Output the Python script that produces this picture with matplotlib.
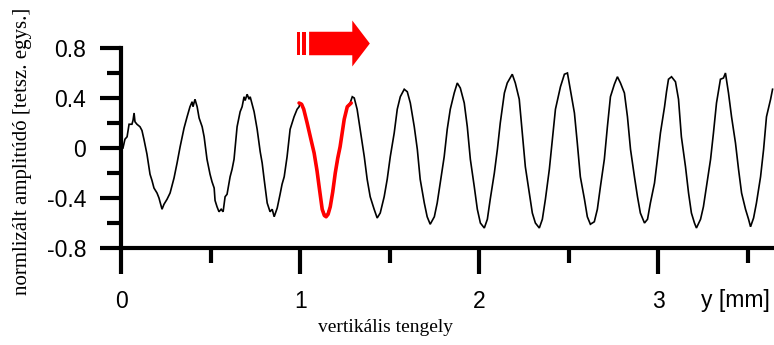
import matplotlib
matplotlib.use("Agg")
import matplotlib.pyplot as plt
from matplotlib.patches import Polygon
from matplotlib.ticker import MultipleLocator

# measured trace: position along the vertical axis [mm] and normalised amplitude
pos_mm = [0.011, 0.022, 0.034, 0.045, 0.061, 0.067, 0.073, 0.078, 0.089, 0.106,
          0.117, 0.128, 0.145, 0.162, 0.173, 0.184, 0.201, 0.212, 0.223, 0.229,
          0.240, 0.257, 0.274, 0.285, 0.296, 0.313, 0.330, 0.352, 0.369, 0.385,
          0.397, 0.402, 0.413, 0.425, 0.436, 0.453, 0.464, 0.480, 0.497, 0.508,
          0.520, 0.525, 0.536, 0.547, 0.559, 0.570, 0.581, 0.592, 0.609, 0.620,
          0.631, 0.648, 0.665, 0.676, 0.687, 0.693, 0.704, 0.715, 0.721, 0.732,
          0.743, 0.760, 0.777, 0.788, 0.799, 0.816, 0.832, 0.844, 0.855, 0.872,
          0.888, 0.899, 0.911, 0.927, 0.944, 0.955, 0.966, 0.983, 0.994, 1.000,
          1.011, 1.039, 1.078, 1.106, 1.123, 1.145, 1.168, 1.196, 1.207, 1.223,
          1.246, 1.263, 1.279, 1.291, 1.302, 1.318, 1.335, 1.358, 1.374, 1.391,
          1.413, 1.430, 1.447, 1.469, 1.486, 1.503, 1.525, 1.542, 1.559, 1.581,
          1.598, 1.615, 1.637, 1.654, 1.670, 1.693, 1.709, 1.726, 1.749, 1.765,
          1.782, 1.804, 1.821, 1.838, 1.860, 1.877, 1.894, 1.916, 1.933, 1.950,
          1.972, 1.989, 2.006, 2.028, 2.045, 2.061, 2.084, 2.101, 2.117, 2.140,
          2.156, 2.184, 2.201, 2.223, 2.240, 2.257, 2.279, 2.296, 2.313, 2.335,
          2.352, 2.369, 2.391, 2.408, 2.425, 2.436, 2.453, 2.475, 2.492, 2.508,
          2.531, 2.547, 2.564, 2.587, 2.603, 2.620, 2.642, 2.659, 2.676, 2.698,
          2.715, 2.732, 2.754, 2.771, 2.788, 2.810, 2.827, 2.844, 2.866, 2.883,
          2.899, 2.922, 2.939, 2.955, 2.978, 2.994, 3.011, 3.034, 3.045, 3.056,
          3.073, 3.095, 3.112, 3.128, 3.151, 3.168, 3.184, 3.201, 3.212, 3.235,
          3.251, 3.268, 3.291, 3.307, 3.324, 3.346, 3.363, 3.374, 3.391, 3.408,
          3.430, 3.447, 3.464, 3.486, 3.503, 3.514, 3.531, 3.547, 3.570, 3.587,
          3.603, 3.626, 3.637]
amp = [0.00, 0.07, 0.09, 0.19, 0.19, 0.22, 0.28, 0.21, 0.19, 0.17,
       0.14, 0.07, -0.05, -0.21, -0.26, -0.32, -0.36, -0.40, -0.46, -0.49,
       -0.45, -0.41, -0.36, -0.30, -0.24, -0.12, 0.01, 0.16, 0.25, 0.33,
       0.37, 0.33, 0.39, 0.33, 0.24, 0.17, 0.09, -0.09, -0.21, -0.27,
       -0.32, -0.42, -0.47, -0.51, -0.49, -0.51, -0.39, -0.37, -0.23, -0.17,
       -0.09, 0.17, 0.29, 0.33, 0.41, 0.38, 0.43, 0.39, 0.41, 0.35,
       0.29, 0.15, -0.03, -0.12, -0.25, -0.44, -0.51, -0.49, -0.55, -0.48,
       -0.37, -0.29, -0.23, -0.07, 0.15, 0.20, 0.25, 0.31, 0.33, 0.36,
       0.35, 0.20, -0.04, -0.31, -0.49, -0.55, -0.47, -0.20, -0.12, 0.01,
       0.23, 0.33, 0.36, 0.41, 0.40, 0.31, 0.15, -0.07, -0.25, -0.39,
       -0.49, -0.56, -0.52, -0.39, -0.25, -0.07, 0.12, 0.31, 0.41, 0.47,
       0.45, 0.36, 0.17, -0.01, -0.25, -0.44, -0.55, -0.61, -0.55, -0.44,
       -0.28, -0.07, 0.15, 0.31, 0.44, 0.52, 0.48, 0.36, 0.17, -0.09,
       -0.31, -0.49, -0.60, -0.64, -0.57, -0.41, -0.20, -0.01, 0.20, 0.44,
       0.52, 0.59, 0.52, 0.39, 0.12, -0.15, -0.36, -0.52, -0.60, -0.64,
       -0.57, -0.41, -0.17, 0.07, 0.31, 0.38, 0.49, 0.59, 0.60, 0.47,
       0.28, 0.04, -0.23, -0.41, -0.55, -0.61, -0.59, -0.49, -0.31, -0.09,
       0.17, 0.41, 0.51, 0.57, 0.52, 0.44, 0.25, -0.01, -0.23, -0.39,
       -0.52, -0.60, -0.57, -0.44, -0.28, -0.09, 0.12, 0.33, 0.45, 0.55,
       0.57, 0.53, 0.39, 0.09, -0.15, -0.36, -0.52, -0.60, -0.64, -0.57,
       -0.47, -0.31, -0.09, 0.12, 0.36, 0.55, 0.56, 0.60, 0.44, 0.25,
       0.04, -0.17, -0.36, -0.49, -0.57, -0.63, -0.56, -0.44, -0.23, -0.01,
       0.25, 0.39, 0.47]

# one period picked out in red
red_mm = [0.994, 1.008, 1.020, 1.039, 1.060, 1.078, 1.094, 1.106, 1.123, 1.135,
          1.145, 1.156, 1.168, 1.182, 1.196, 1.210, 1.223, 1.246, 1.263, 1.285]
red_amp = [0.36, 0.35, 0.31, 0.20, 0.07, -0.04, -0.18, -0.31, -0.49, -0.54,
           -0.55, -0.53, -0.47, -0.35, -0.20, -0.08, 0.01, 0.23, 0.33, 0.36]

x_ticks = [0, 1, 2, 3]
x_minor = [0.5, 1.5, 2.5, 3.5]
y_ticks = [-0.8, -0.4, 0, 0.4, 0.8]
y_labels = ["-0.8", "-0.4", "0", "0.4", "0.8"]

fig = plt.figure(figsize=(7.74, 3.45), dpi=100)
ax = fig.add_axes([121 / 774, 97 / 345, 1 - 121 / 774, 200 / 345])

ax.plot(pos_mm, amp, color="black", lw=1.2, solid_joinstyle="miter")
ax.plot(red_mm, red_amp, color="red", lw=2.6, solid_capstyle="round")

ax.set_xlim(0, 3.645)
ax.set_ylim(-0.8, 0.8)

for side in ("top", "right"):
    ax.spines[side].set_visible(False)
for side in ("left", "bottom"):
    ax.spines[side].set_linewidth(3.0)
    ax.spines[side].set_capstyle("projecting")

ax.set_xticks(x_ticks)
ax.set_xticklabels([str(t) for t in x_ticks])
ax.set_xticks(x_minor, minor=True)
ax.set_yticks(y_ticks)
ax.set_yticklabels(y_labels)
ax.yaxis.set_minor_locator(MultipleLocator(0.2))

ax.tick_params(axis="x", which="major", length=19, width=3.0, pad=11)
ax.tick_params(axis="x", which="minor", length=11, width=3.0)
ax.tick_params(axis="y", which="major", length=15, width=3.0, pad=10)
ax.tick_params(axis="y", which="minor", length=10, width=3.0)
for lab in ax.get_xticklabels() + ax.get_yticklabels():
    lab.set_family("Liberation Sans")
    lab.set_fontsize(16.5)

# red arrow pointing along +y above the red period
arrow = Polygon([(1.050, 0.742), (1.291, 0.742), (1.291, 0.652), (1.389, 0.836),
                 (1.291, 1.020), (1.291, 0.930), (1.050, 0.930)],
                closed=True, facecolor="red", edgecolor="none", clip_on=False)
ax.add_patch(arrow)
for x0, x1 in [(0.981, 1.000), (1.009, 1.035)]:
    ax.add_patch(Polygon([(x0, 0.742), (x1, 0.742), (x1, 0.930), (x0, 0.930)],
                         closed=True, facecolor="red", edgecolor="none",
                         clip_on=False))

fig.text(770 / 774, 1 - 300 / 345, "y [mm]", ha="right", va="center",
         family="Liberation Sans", fontsize=16.5)
fig.text(385 / 774, 1 - 327 / 345, "vertikális tengely", ha="center",
         va="center", family="Liberation Serif", fontsize=14)
fig.text(23 / 774, 1 - 151 / 345, "normlizált amplitúdó [tetsz. egys.]",
         rotation=90, ha="center", va="center", family="Liberation Serif",
         fontsize=15)

fig.savefig("out.png", dpi=100)
